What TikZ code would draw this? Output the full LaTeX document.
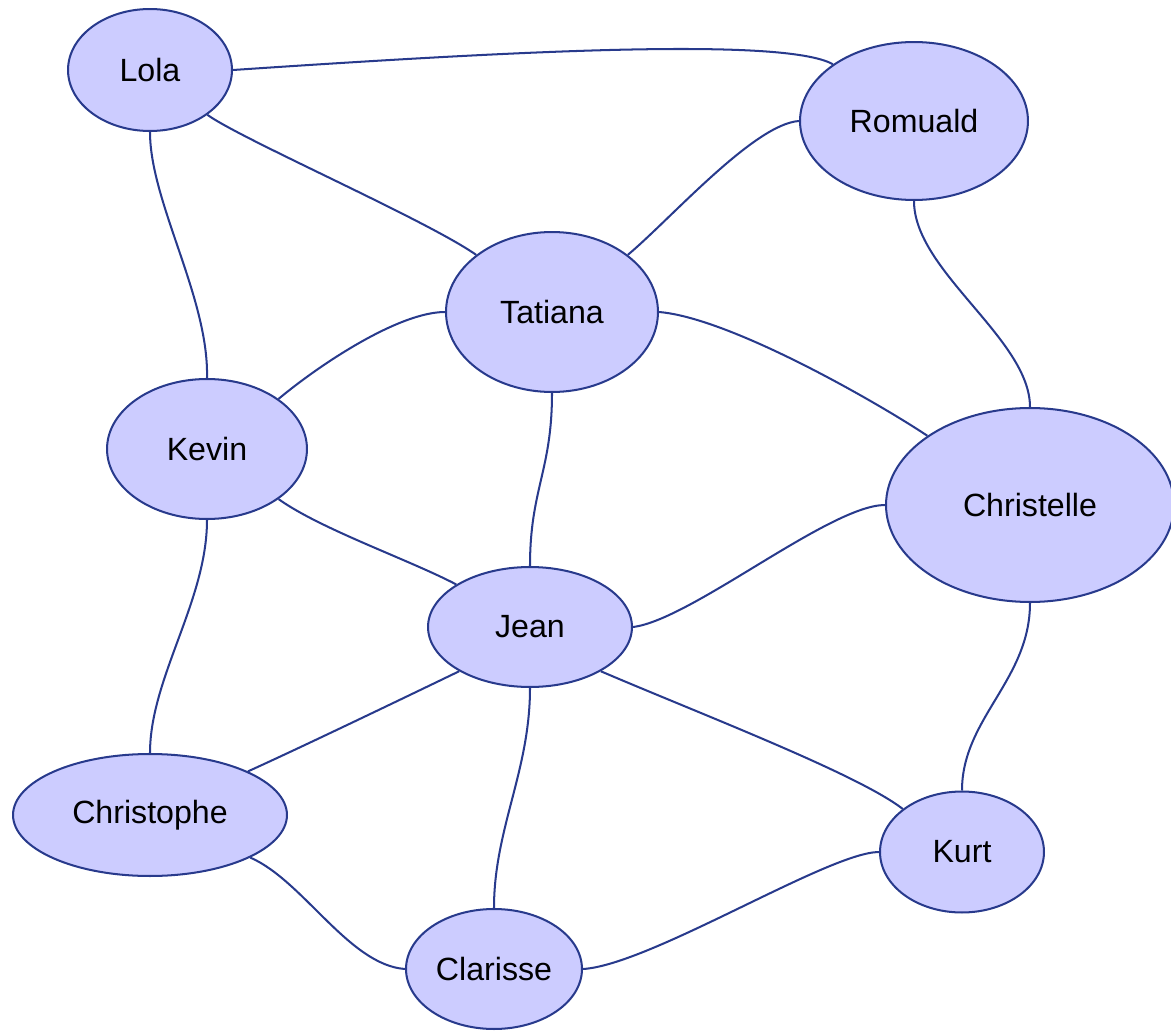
\documentclass[tikz,border=0pt]{standalone}
\usepackage{fontspec}
\setmainfont{Liberation Sans}
\usetikzlibrary{shapes.geometric,backgrounds}
\definecolor{nodefill}{RGB}{204,204,255}
\definecolor{edgeblue}{RGB}{40,58,140}
\begin{document}
\begin{tikzpicture}[x=0.02cm,y=-0.02cm,
  person/.style={ellipse, draw=edgeblue, fill=nodefill, line width=1.15pt,
    inner sep=0pt, font=\fontsize{18.3}{22}\selectfont},
  link/.style={draw=edgeblue, line width=1.15pt}]
\useasboundingbox (0,0) rectangle (1171,1031);

% people
\node[person, minimum width=3.28cm, minimum height=2.44cm] (lola) at (150,70) {Lola};
\node[person, minimum width=4.56cm, minimum height=3.16cm] (romuald) at (914,121) {Romuald};
\node[person, minimum width=4.24cm, minimum height=3.2cm] (tatiana) at (552,312) {Tatiana};
\node[person, minimum width=4.0cm, minimum height=2.8cm] (kevin) at (207,449) {Kevin};
\node[person, minimum width=5.76cm, minimum height=3.88cm] (christelle) at (1030,505) {Christelle};
\node[person, minimum width=4.08cm, minimum height=2.4cm] (jean) at (530,627) {Jean};
\node[person, minimum width=5.48cm, minimum height=2.44cm] (christophe) at (150,815) {Christophe};
\node[person, minimum width=3.28cm, minimum height=2.42cm] (kurt) at (962,852) {Kurt};
\node[person, minimum width=3.52cm, minimum height=2.4cm] (clarisse) at (494,969) {Clarisse};

% relations
\begin{scope}[on background layer]
\draw[link] (lola.0) .. controls +(268,-18) and +(-50,-28) .. (romuald.145);
\draw[link] (lola.-38) .. controls +(35,25) and +(-50,-35) .. (tatiana.143);
\draw[link] (lola.-90) .. controls +(0,70) and +(2,-80) .. (kevin.90);
\draw[link] (romuald.180) .. controls +(-45,3) and +(42,-35) .. (tatiana.37);
\draw[link] (romuald.-90) .. controls +(0,70) and +(0,-68) .. (christelle.90);
\draw[link] (tatiana.180) .. controls +(-46,0) and +(42,-35) .. (kevin.35);
\draw[link] (tatiana.0) .. controls +(72,6) and +(-48,-32) .. (christelle.146);
\draw[link] (tatiana.-90) .. controls +(0,78) and +(0,-77) .. (jean.90);
\draw[link] (kevin.-35) .. controls +(42,30) and +(-48,-25) .. (jean.150);
\draw[link] (kevin.-90) .. controls +(0,81) and +(0,-75) .. (christophe.90);
\draw[link] (christelle.180) .. controls +(-55,0) and +(58,-7) .. (jean.0);
\draw[link] (christelle.-90) .. controls +(0,77) and +(0,-72) .. (kurt.90);
\draw[link] (jean.-148) .. controls +(-58,28) and +(53,-24) .. (christophe.24);
\draw[link] (jean.-90) .. controls +(0,83) and +(0,-79) .. (clarisse.90);
\draw[link] (jean.-32) .. controls +(98,42) and +(-45,-35) .. (kurt.144);
\draw[link] (christophe.-23) .. controls +(53,23) and +(-56,-4) .. (clarisse.180);
\draw[link] (kurt.180) .. controls +(-50,0) and +(67,-4) .. (clarisse.0);
\end{scope}
\end{tikzpicture}
\end{document}
